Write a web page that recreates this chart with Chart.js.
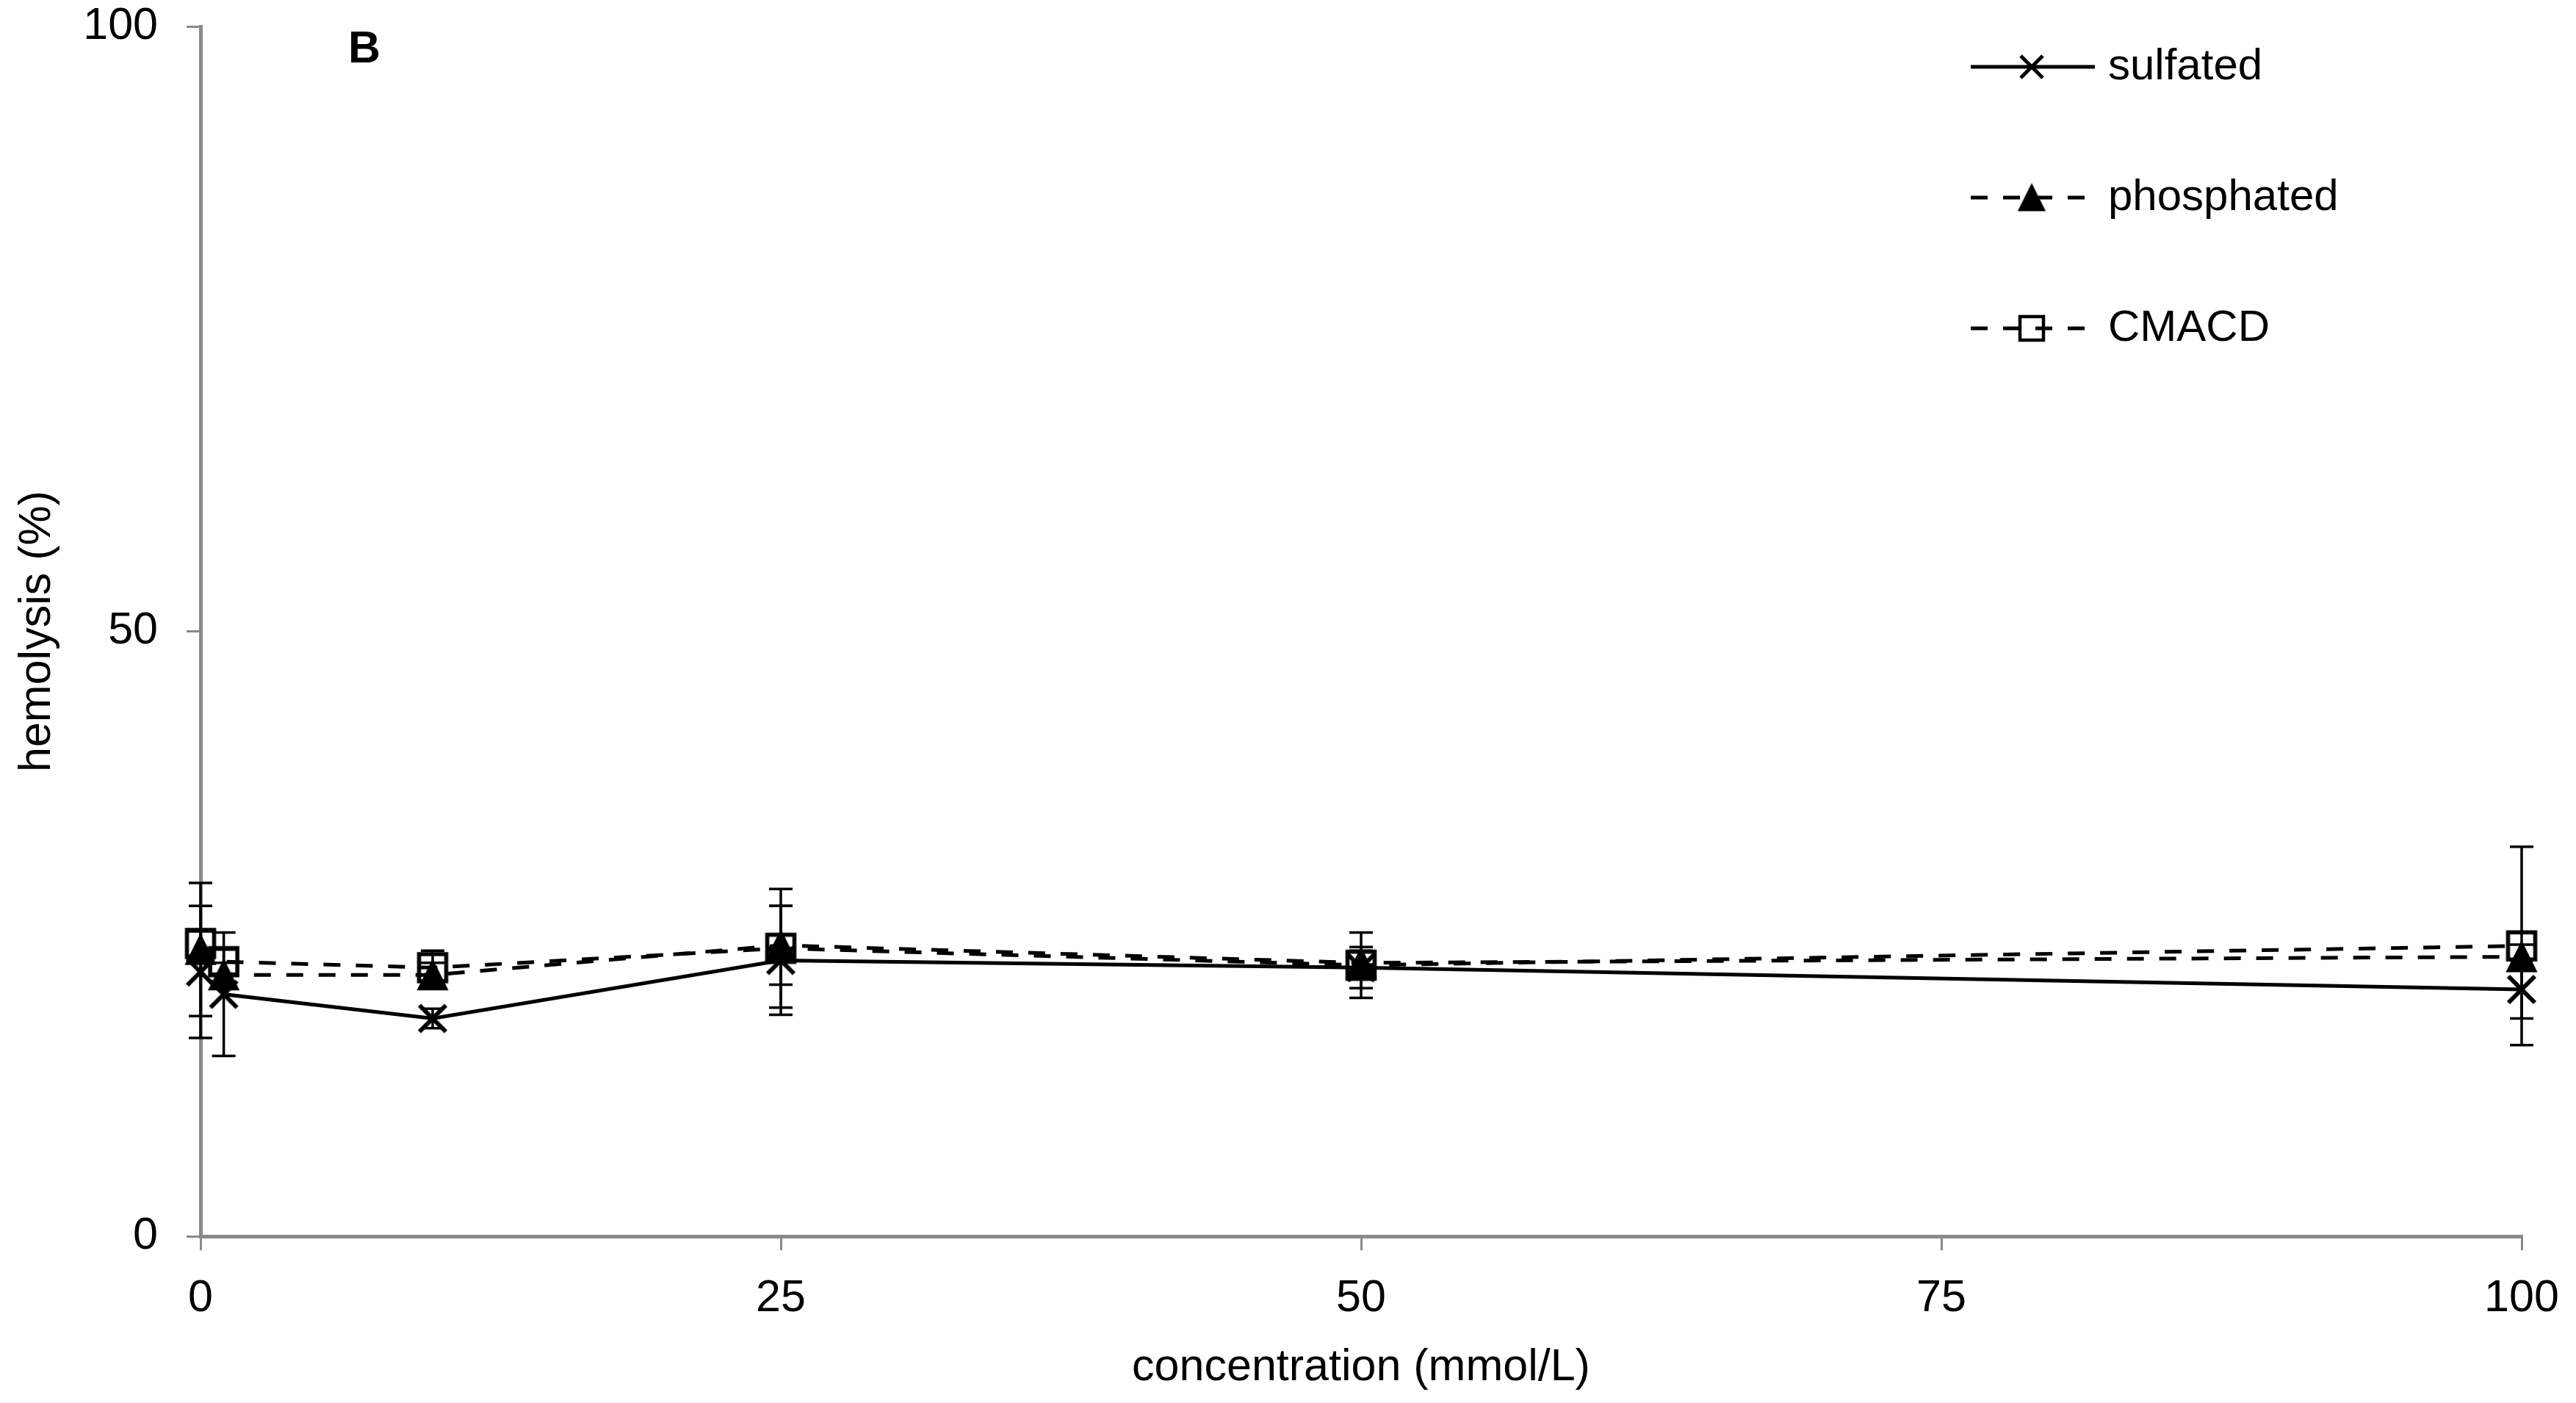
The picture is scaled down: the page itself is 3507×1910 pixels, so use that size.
<!DOCTYPE html>
<html>
<head>
<meta charset="utf-8">
<script src="https://cdn.jsdelivr.net/npm/chart.js@4.4.1/dist/chart.umd.min.js"></script>
<style>
html,body{margin:0;padding:0;background:#fff;}
#wrap{width:3507px;height:1910px;position:relative;}
</style>
</head>
<body>
<div id="wrap"><canvas id="c" width="3507" height="1910"></canvas></div>
<script>
// ---- data ----
const concentrations = [0, 1, 10, 25, 50, 100];
const sulfated      = [21.85, 20.0, 18.0, 22.8, 22.2, 20.4];
const sulfatedErr   = [5.45, 5.1, 0.8, 4.5, 1.7, 2.4];
const phosphated    = [23.7, 21.6, 21.6, 24.05, 22.6, 23.1];
const phosphatedErr = [5.5, 1.0, 1.0, 3.25, 1.0, 1.0];
const cmacd         = [24.2, 22.7, 22.2, 23.8, 22.4, 24.0];
const cmacdErr      = [1.0, 1.0, 1.4, 4.9, 2.7, 8.2];
const seriesNames   = ['sulfated', 'phosphated', 'CMACD'];
const xTicks = [0, 25, 50, 75, 100];
const yTicks = [0, 50, 100];
const panelLabel = 'B';
const xTitle = 'concentration (mmol/L)';
const yTitle = 'hemolysis (%)';

const FONT = "'Liberation Sans', Arial, sans-serif";
const AXIS_GRAY = '#898989';

// ---- marker images (Excel-like) ----
function makeMarker(type, size, lw) {
  const pad = Math.ceil(lw) + 2;
  const dim = Math.ceil(size + 2 * pad);
  const cv = document.createElement('canvas');
  cv.width = dim; cv.height = dim;
  const c = cv.getContext('2d');
  const cx = dim / 2, cy = dim / 2, h = size / 2;
  c.strokeStyle = '#000'; c.fillStyle = '#000'; c.lineWidth = lw;
  c.beginPath();
  if (type === 'x') {
    c.moveTo(cx - h, cy - h); c.lineTo(cx + h, cy + h);
    c.moveTo(cx + h, cy - h); c.lineTo(cx - h, cy + h);
    c.stroke();
  } else if (type === 'tri') {
    c.moveTo(cx, cy - h); c.lineTo(cx + h, cy + h); c.lineTo(cx - h, cy + h);
    c.closePath(); c.fill(); c.lineWidth = 2; c.stroke();
  } else {
    c.rect(cx - h, cy - h, size, size); c.stroke();
  }
  return cv;
}
const plotMarkers = [makeMarker('x', 36, 6), makeMarker('tri', 40, 1), makeMarker('sq', 37, 5.5)];
const legendMarkers = [makeMarker('x', 30, 5), makeMarker('tri', 35, 1), makeMarker('sq', 32, 4.5)];

const seriesValues = [sulfated, phosphated, cmacd];
const seriesErrors = [sulfatedErr, phosphatedErr, cmacdErr];
const seriesDash = [[], [23, 21], [23, 21]];

// ---- plugins ----
const errorBarPlugin = {
  id: 'errorBars',
  beforeDatasetsDraw(chart) {
    const { ctx, scales: { x, y } } = chart;
    ctx.save();
    ctx.strokeStyle = '#000';
    ctx.lineWidth = 3.5;
    ctx.setLineDash([]);
    seriesValues.forEach((vals, s) => {
      const errs = seriesErrors[s];
      concentrations.forEach((c, i) => {
        const px = x.getPixelForValue(c);
        const top = y.getPixelForValue(vals[i] + errs[i]);
        const bot = y.getPixelForValue(vals[i] - errs[i]);
        ctx.beginPath();
        ctx.moveTo(px, top); ctx.lineTo(px, bot);
        ctx.moveTo(px - 16, top); ctx.lineTo(px + 16, top);
        ctx.moveTo(px - 16, bot); ctx.lineTo(px + 16, bot);
        ctx.stroke();
      });
    });
    ctx.restore();
  }
};

const overlayPlugin = {
  id: 'overlay',
  afterDraw(chart) {
    const ctx = chart.ctx;
    ctx.save();
    // panel label
    ctx.fillStyle = '#000';
    ctx.font = 'bold 61px ' + FONT;
    ctx.textAlign = 'center';
    ctx.textBaseline = 'alphabetic';
    ctx.fillText(panelLabel, 496, 85);
    // legend
    const rows = [91, 269, 447];
    const x0 = 2683, x1 = 2852, mx = 2766, tx = 2870;
    seriesNames.forEach((name, i) => {
      const yy = rows[i];
      ctx.strokeStyle = '#000';
      ctx.lineWidth = 5;
      ctx.setLineDash(seriesDash[i]);
      ctx.beginPath(); ctx.moveTo(x0, yy); ctx.lineTo(x1, yy); ctx.stroke();
      ctx.setLineDash([]);
      const m = legendMarkers[i];
      ctx.drawImage(m, mx - m.width / 2, yy - m.height / 2);
      ctx.fillStyle = '#000';
      ctx.font = '60px ' + FONT;
      ctx.textAlign = 'left';
      ctx.textBaseline = 'middle';
      ctx.fillText(name, tx, yy);
    });
    ctx.restore();
  }
};

// ---- datasets ----
const datasets = seriesNames.map((name, s) => ({
  label: name,
  data: concentrations.map((c, i) => ({ x: c, y: seriesValues[s][i] })),
  showLine: true,
  borderColor: '#000',
  backgroundColor: '#000',
  borderWidth: 5,
  borderDash: seriesDash[s],
  pointStyle: plotMarkers[s],
  pointRadius: 22,
  pointHoverRadius: 22,
  tension: 0,
  clip: false,
  order: 3 - s
}));

const tickFont = { family: FONT, size: 61 };

new Chart(document.getElementById('c'), {
  type: 'scatter',
  data: { datasets },
  plugins: [errorBarPlugin, overlayPlugin],
  options: {
    responsive: false,
    devicePixelRatio: 1,
    animation: false,
    layout: { padding: { left: 0, top: 36, right: 74, bottom: 0 } },
    plugins: { legend: { display: false }, tooltip: { enabled: false } },
    scales: {
      x: {
        type: 'linear',
        min: xTicks[0], max: xTicks[xTicks.length - 1],
        afterBuildTicks: (s) => { s.ticks = xTicks.map(v => ({ value: v })); },
        afterFit: (s) => { s.height = 1910 - 1683; s.paddingLeft = 0; s.paddingRight = 0; s.paddingTop = 0; s.paddingBottom = 0; },
        ticks: { font: tickFont, color: '#000', padding: 30, maxRotation: 0 },
        grid: { display: true, drawOnChartArea: false, drawTicks: true, tickLength: 19, color: AXIS_GRAY, lineWidth: 3 },
        border: { display: true, color: AXIS_GRAY, width: 5 },
        title: { display: true, text: xTitle, font: tickFont, color: '#000', padding: { top: 0, bottom: 11 } }
      },
      y: {
        type: 'linear',
        min: yTicks[0], max: yTicks[yTicks.length - 1],
        afterBuildTicks: (s) => { s.ticks = yTicks.map(v => ({ value: v })); },
        afterFit: (s) => { s.width = 273; s.paddingTop = 0; s.paddingBottom = 0; s.paddingLeft = 0; s.paddingRight = 0; },
        ticks: { font: tickFont, color: '#000', padding: 39 },
        grid: { display: true, drawOnChartArea: false, drawTicks: true, tickLength: 19, color: AXIS_GRAY, lineWidth: 3 },
        border: { display: true, color: AXIS_GRAY, width: 5 },
        title: { display: true, text: yTitle, font: tickFont, color: '#000', padding: { top: 15, bottom: 0 } }
      }
    }
  }
});
</script>
</body>
</html>
